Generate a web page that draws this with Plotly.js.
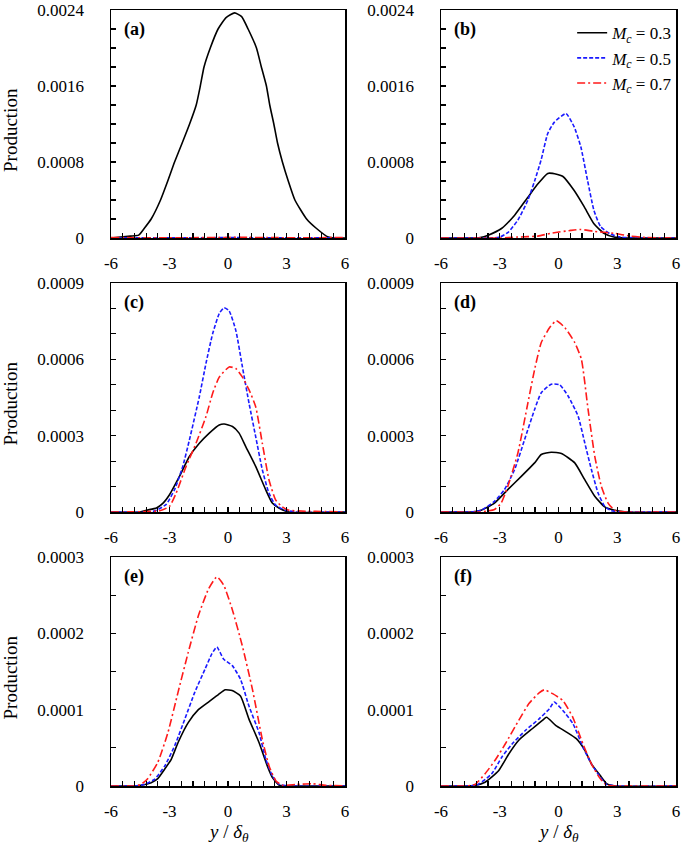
<!DOCTYPE html>
<html>
<head>
<meta charset="utf-8">
<script src="https://cdn.plot.ly/plotly-3.0.1.min.js"></script>
<style>body{margin:0;background:#fff;}</style>
</head>
<body>
<div id="chart" style="width:685px;height:848px;"></div>
<script>
// ---------- DATA ----------
const panelLabels = ['(a)', '(b)', '(c)', '(d)', '(e)', '(f)'];
const seriesNames = ['<i>M</i><sub><i>c</i></sub> = 0.3', '<i>M</i><sub><i>c</i></sub> = 0.5', '<i>M</i><sub><i>c</i></sub> = 0.7'];
const yTitle = 'Production';
const xTitle = '<i>y</i> / <i>δ</i><sub><i>θ</i></sub>';
const xTickVals = [-6, -3, 0, 3, 6];
const xTickText = ['-6', '-3', '0', '3', '6'];

// Panel (a)
const a_x_03 = [-6, -5.5, -5.0, -4.58, -4.3, -3.94, -3.46, -3.09, -2.74, -2.35, -1.97, -1.63, -1.42, -1.23, -0.91, -0.51, -0.1, 0.34, 0.7, 1.03, 1.46, 1.71, 1.97, 2.14, 2.35, 2.54, 2.79, 3.09, 3.43, 4.03, 4.54, 5.14, 5.5, 6];
const a_y_03 = [0, 0.00001, 0.00002, 0.00003, 0.0001, 0.0002, 0.0004, 0.0006, 0.0008, 0.001, 0.0012, 0.0014, 0.0016, 0.0018, 0.002, 0.0022, 0.00232, 0.00237, 0.00233, 0.0022, 0.002, 0.0018, 0.0016, 0.0014, 0.0012, 0.001, 0.0008, 0.0006, 0.0004, 0.0002, 0.0001, 0.00001, 0, 0];
const a_x_05 = [-6, -4, -2, 0, 2, 4, 6];
const a_y_05 = [0.000003, 0.000002, 0.000002, 0.000004, 0.000002, 0.000002, 0.000003];
const a_x_07 = [-6, -4, -2, 0, 1, 2, 4, 6];
const a_y_07 = [0.000004, 0.000003, 0.000003, 0.000006, 0.000007, 0.000004, 0.000003, 0.000004];

// Panel (b)
const b_x_03 = [-6, -4.5, -4.0, -3.59, -2.91, -2.24, -1.56, -1.05, -0.55, -0.3, 0.21, 0.8, 1.31, 1.81, 2.32, 2.83, 3.5, 6];
const b_y_03 = [0, 0, 0.000005, 0.00003, 0.0001, 0.00024, 0.00043, 0.00057, 0.00068, 0.00068, 0.00065, 0.0005, 0.00033, 0.00015, 0.00005, 0.00001, 0, 0];
const b_x_05 = [-6, -3.5, -3.0, -2.57, -2.07, -1.56, -1.22, -0.89, -0.55, -0.21, 0.38, 0.8, 1.14, 1.48, 1.81, 2.15, 2.66, 3.16, 4, 6];
const b_y_05 = [0, 0, 0.00001, 0.00006, 0.00019, 0.0004, 0.0006, 0.00082, 0.0011, 0.00122, 0.00131, 0.00117, 0.00096, 0.00061, 0.00029, 0.00012, 0.00004, 0.00001, 0, 0];
const b_x_07 = [-6, -3, -2.07, -1.05, -0.38, 0.63, 1.14, 1.81, 2.83, 3.67, 4.5, 6];
const b_y_07 = [0, 0, 0.00001, 0.00002, 0.00005, 0.00008, 0.00009, 0.00007, 0.00005, 0.00002, 0.000005, 0];

// Panel (c)
const c_x_03 = [-6, -4.5, -4.18, -3.67, -3.33, -3.0, -2.49, -1.98, -1.47, -0.96, -0.45, -0.2, 0.23, 0.57, 0.91, 1.42, 1.93, 2.27, 2.61, 3.12, 6];
const c_y_03 = [0, 0, 0.000007, 0.000016, 0.000035, 0.000068, 0.00014, 0.000218, 0.00027, 0.00031, 0.000342, 0.000346, 0.000336, 0.00031, 0.000257, 0.000179, 0.000088, 0.000035, 0.000016, 0, 0];
const c_x_05 = [-6, -4, -3.67, -3.17, -2.74, -2.32, -1.98, -1.47, -1.13, -0.79, -0.45, -0.2, 0.06, 0.4, 0.74, 1.08, 1.42, 1.76, 2.1, 2.44, 2.95, 3.5, 6];
const c_y_05 = [0, 0, 0.000007, 0.00003, 0.000088, 0.000179, 0.000283, 0.000453, 0.000584, 0.0007, 0.00078, 0.000803, 0.00079, 0.000714, 0.00057, 0.000427, 0.000296, 0.000166, 0.000074, 0.000027, 0.000007, 0, 0];
const c_x_07 = [-6, -3.5, -3.0, -2.66, -2.15, -1.64, -1.13, -0.79, -0.45, 0.06, 0.4, 0.74, 1.08, 1.42, 1.76, 2.1, 2.44, 2.78, 3.12, 4, 5, 6];
const c_y_07 = [0, 0.000005, 0.000022, 0.000074, 0.000179, 0.00027, 0.000375, 0.000466, 0.00053, 0.00057, 0.000564, 0.00053, 0.00048, 0.000414, 0.00027, 0.000127, 0.000048, 0.00002, 0.000007, 0.000003, 0.000002, 0];

// Panel (d)
const d_x_03 = [-6, -4.5, -3.95, -3.27, -2.59, -1.9, -1.22, -0.88, -0.37, 0.15, 0.83, 1.34, 1.85, 2.36, 2.87, 3.5, 6];
const d_y_03 = [0, 0, 0.000007, 0.000035, 0.000088, 0.00014, 0.000193, 0.000226, 0.000235, 0.00023, 0.000193, 0.000127, 0.000062, 0.00002, 0.000007, 0, 0];
const d_x_05 = [-6, -4.5, -3.95, -3.27, -2.76, -2.24, -1.73, -1.22, -0.88, -0.37, 0.06, 0.49, 1.0, 1.34, 1.68, 2.02, 2.36, 2.7, 3.5, 6];
const d_y_05 = [0, 0, 0.000007, 0.000042, 0.000088, 0.000167, 0.000285, 0.000403, 0.000469, 0.000502, 0.0005, 0.000456, 0.000377, 0.000272, 0.000167, 0.000075, 0.000022, 0.000005, 0, 0];
const d_x_07 = [-6, -4, -3.27, -2.93, -2.59, -2.07, -1.56, -1.22, -0.88, -0.45, -0.11, 0.32, 0.83, 1.17, 1.51, 1.85, 2.19, 2.53, 2.87, 3.5, 6];
const d_y_07 = [0, 0, 0.00001, 0.000035, 0.0001, 0.000233, 0.00043, 0.00056, 0.000666, 0.000725, 0.000752, 0.000725, 0.000666, 0.0006, 0.000403, 0.00022, 0.0001, 0.000035, 0.000007, 0, 0];

// Panel (e)
const e_x_03 = [-6, -4.8, -4.46, -3.94, -3.6, -3.25, -2.91, -2.56, -2.04, -1.52, -1.0, -0.48, -0.14, 0.21, 0.64, 1.07, 1.59, 2.02, 2.28, 2.63, 3.2, 6];
const e_y_03 = [0, 0, 0.000001, 0.0000044, 0.0000096, 0.000022, 0.000035, 0.000057, 0.000083, 0.0001, 0.00011, 0.00012, 0.000126, 0.000125, 0.000118, 0.000088, 0.000057, 0.000026, 0.000011, 0.000001, 0, 0];
const e_x_05 = [-6, -4.8, -4.29, -3.77, -3.25, -2.73, -2.21, -1.7, -1.18, -0.83, -0.57, -0.22, 0.21, 0.64, 1.07, 1.59, 1.94, 2.28, 2.63, 3.2, 6];
const e_y_05 = [0, 0, 0.000002, 0.0000088, 0.000026, 0.000053, 0.000088, 0.000123, 0.000153, 0.000173, 0.000182, 0.000166, 0.000158, 0.00014, 0.000105, 0.00007, 0.000035, 0.000013, 0.000002, 0, 0];
const e_x_07 = [-6, -4.8, -4.46, -4.12, -3.6, -3.08, -2.56, -2.04, -1.52, -1.0, -0.57, -0.22, 0.21, 0.73, 1.25, 1.76, 2.11, 2.46, 2.8, 3.5, 4.3, 5.0, 6];
const e_y_07 = [0, 0, 0.000002, 0.0000096, 0.000031, 0.00007, 0.000123, 0.000175, 0.000223, 0.000258, 0.000274, 0.000263, 0.000232, 0.000184, 0.000127, 0.000061, 0.000026, 0.0000066, 0.000001, 0.000002, 0.000003, 0.000001, 0];

// Panel (f)
const f_x_03 = [-6, -4.7, -4.27, -3.75, -3.06, -2.54, -2.03, -1.34, -0.82, -0.61, -0.13, 0.39, 0.91, 1.34, 1.68, 2.12, 2.46, 2.9, 6];
const f_y_03 = [0, 0, 0.000001, 0.000005, 0.00002, 0.000042, 0.00006, 0.000075, 0.000086, 0.00009, 0.000079, 0.000071, 0.000062, 0.000047, 0.000029, 0.000014, 0.000003, 0, 0];
const f_x_05 = [-6, -4.6, -4.1, -3.41, -2.89, -2.37, -1.68, -0.99, -0.47, -0.22, 0.22, 0.73, 1.25, 1.68, 2.12, 2.46, 3.0, 6];
const f_y_05 = [0, 0, 0.000002, 0.000016, 0.000038, 0.000055, 0.000073, 0.000088, 0.000101, 0.00011, 0.000099, 0.000082, 0.000051, 0.000029, 0.000012, 0.000002, 0, 0];
const f_x_07 = [-6, -4.7, -4.27, -3.75, -3.23, -2.72, -2.03, -1.51, -0.99, -0.73, -0.3, 0.22, 0.73, 1.25, 1.68, 2.12, 2.46, 3.0, 6];
const f_y_07 = [0, 0, 0.000002, 0.000016, 0.000034, 0.000055, 0.000086, 0.000108, 0.000122, 0.000126, 0.000121, 0.000112, 0.00009, 0.000055, 0.000029, 0.00001, 0.000001, 0, 0];

// ---------- BUILD ----------
const panels = [
  [[a_x_03, a_y_03], [a_x_05, a_y_05], [a_x_07, a_y_07]],
  [[b_x_03, b_y_03], [b_x_05, b_y_05], [b_x_07, b_y_07]],
  [[c_x_03, c_y_03], [c_x_05, c_y_05], [c_x_07, c_y_07]],
  [[d_x_03, d_y_03], [d_x_05, d_y_05], [d_x_07, d_y_07]],
  [[e_x_03, e_y_03], [e_x_05, e_y_05], [e_x_07, e_y_07]],
  [[f_x_03, f_y_03], [f_x_05, f_y_05], [f_x_07, f_y_07]]
];
const lineStyles = [
  {color: '#000000', width: 1.6, dash: 'solid'},
  {color: '#1a1aff', width: 1.6, dash: '4px,2px'},
  {color: '#ff1a1a', width: 1.6, dash: '8px,3px,2px,3px'}
];
const W = 685, H = 848;
const colX = [[111, 345], [441, 676]];
const rowY = [[10, 238], [283, 512], [557, 786]];
const yCfg = [
  {range: [0, 0.0024], dtick: 0.0008, minor: 0.0002},
  {range: [0, 0.0009], dtick: 0.0003, minor: 0.0001},
  {range: [0, 0.0003], dtick: 0.0001, minor: 0.00005}
];
const FONT = '"Liberation Serif"';

const traces = [];
const layout = {
  width: W, height: H,
  margin: {l: 0, r: 0, t: 0, b: 0},
  paper_bgcolor: '#ffffff', plot_bgcolor: '#ffffff',
  font: {family: FONT, size: 16, color: '#000'},
  showlegend: true,
  legend: {
    x: 0.99, xanchor: 'right', y: 0.982, yanchor: 'top',
    bgcolor: 'rgba(0,0,0,0)', borderwidth: 0,
    font: {family: FONT, size: 17, color: '#000'},
    tracegroupgap: 0
  },
  annotations: []
};

panels.forEach((series, p) => {
  const row = Math.floor(p / 2), col = p % 2;
  const n = p + 1;
  const xa = 'x' + (n === 1 ? '' : n), ya = 'y' + (n === 1 ? '' : n);
  series.forEach((s, k) => {
    traces.push({
      type: 'scatter', mode: 'lines',
      x: s[0], y: s[1],
      xaxis: xa, yaxis: ya,
      name: seriesNames[k],
      showlegend: p === 1,
      line: Object.assign({shape: 'spline', smoothing: 0.5}, lineStyles[k]),
      hoverinfo: 'skip'
    });
  });
  const xd = [colX[col][0] / W, colX[col][1] / W];
  const yd = [1 - rowY[row][1] / H, 1 - rowY[row][0] / H];
  const yc = yCfg[row];
  layout['xaxis' + (n === 1 ? '' : n)] = {
    domain: xd, anchor: ya, range: [-6, 6],
    tickmode: 'array', tickvals: xTickVals, ticktext: xTickText,
    ticks: 'inside', ticklen: 5, tickwidth: 1.2, tickcolor: '#000',
    minor: {tickmode: 'linear', tick0: -6, dtick: 0.6, ticks: 'inside', ticklen: 5, tickwidth: 1.2, tickcolor: '#000', showgrid: false},
    showline: true, linecolor: '#000', linewidth: 1.5, mirror: true,
    showgrid: false, zeroline: false, automargin: false,
    ticklabelstandoff: 9,
    tickfont: {family: FONT, size: 17, color: '#000'}
  };
  layout['yaxis' + (n === 1 ? '' : n)] = {
    domain: yd, anchor: xa, range: yc.range,
    tickmode: 'linear', tick0: 0, dtick: yc.dtick,
    exponentformat: 'none', separatethousands: false,
    ticks: 'inside', ticklen: 5, tickwidth: 1.2, tickcolor: '#000',
    minor: {tickmode: 'linear', tick0: 0, dtick: yc.minor, ticks: 'inside', ticklen: 5, tickwidth: 1.2, tickcolor: '#000', showgrid: false},
    showline: true, linecolor: '#000', linewidth: 1.5, mirror: true,
    showgrid: false, zeroline: false, automargin: false,
    ticklabelstandoff: 22,
    tickfont: {family: FONT, size: 17, color: '#000'}
  };
  layout.annotations.push({
    xref: xa + ' domain', yref: ya + ' domain',
    x: 0.045, y: 0.97, xanchor: 'left', yanchor: 'top',
    text: '<b>' + panelLabels[p] + '</b>', showarrow: false,
    font: {family: FONT, size: 18, color: '#000'}
  });
  if (col === 0) {
    layout.annotations.push({
      xref: 'paper', yref: ya + ' domain',
      x: 10 / W, y: 0.5 - 6 / (rowY[row][1] - rowY[row][0]), xanchor: 'center', yanchor: 'middle',
      text: yTitle, textangle: -90, showarrow: false,
      font: {family: FONT, size: 19, color: '#000'}
    });
  }
  if (row === 2) {
    layout.annotations.push({
      xref: xa + ' domain', yref: 'paper',
      x: 0.5, y: 1 - 833 / H, xanchor: 'center', yanchor: 'middle',
      text: xTitle, showarrow: false,
      font: {family: FONT, size: 19, color: '#000'}
    });
  }
});

Plotly.newPlot('chart', traces, layout, {displayModeBar: false, staticPlot: true});
</script>
</body>
</html>
